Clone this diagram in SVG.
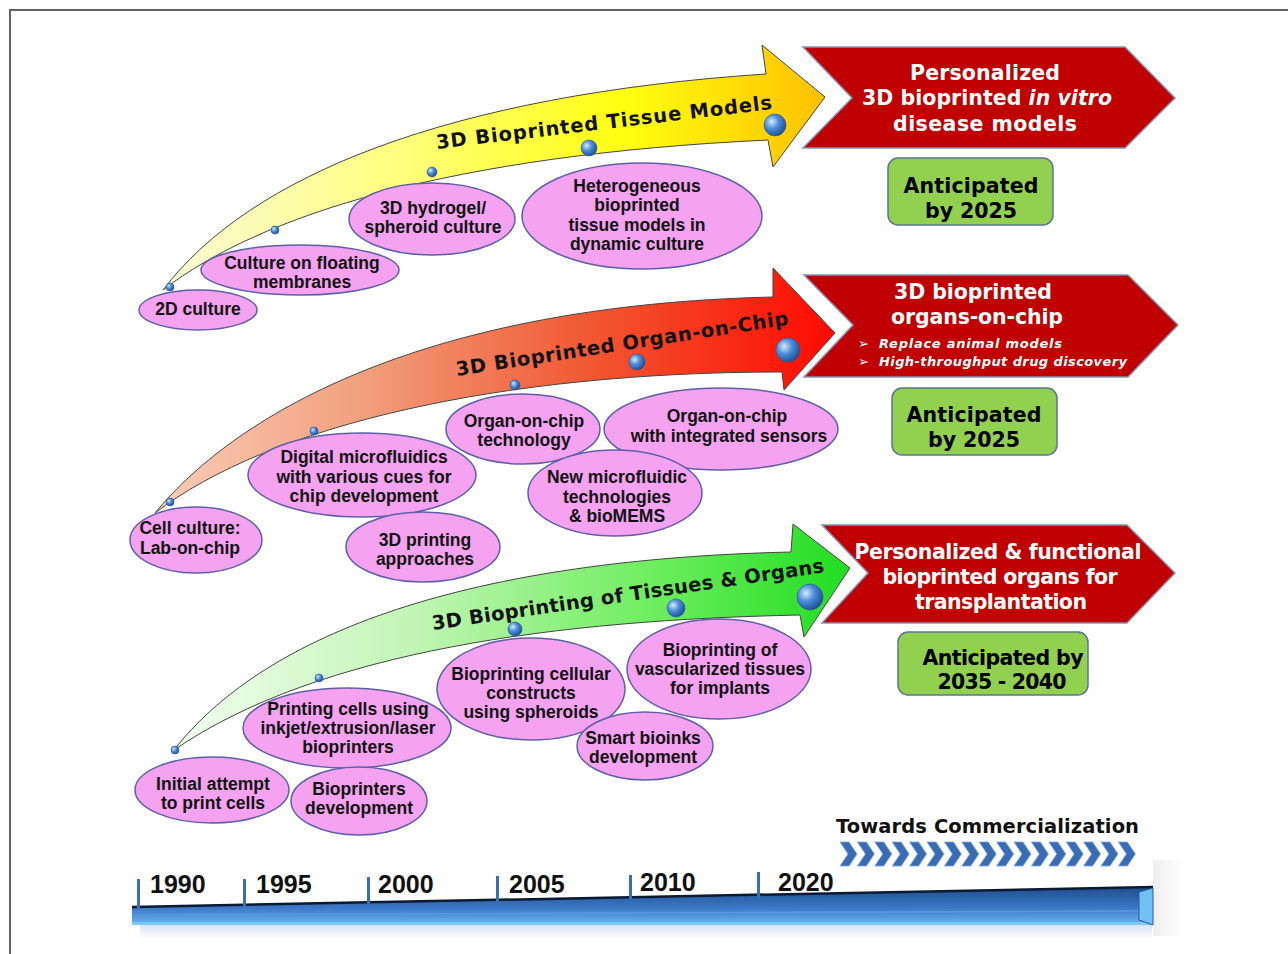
<svg xmlns="http://www.w3.org/2000/svg" width="1288" height="954" viewBox="0 0 1288 954">
<style>
.el{fill:#f5a2f1;stroke:#5d60a8;stroke-width:1.5}
.et{font-family:"Liberation Sans",Arial,sans-serif;font-weight:bold;font-size:17.5px;fill:#111;text-anchor:middle}
.bt{font-family:"DejaVu Sans","Liberation Sans",sans-serif;font-weight:bold;font-size:20.5px;fill:#fff;text-anchor:middle}
.bl{font-family:"DejaVu Sans","Liberation Sans",sans-serif;font-weight:bold;font-style:italic;font-size:13px;fill:#fff}
.gt{font-family:"DejaVu Sans","Liberation Sans",sans-serif;font-weight:bold;font-size:20.5px;fill:#000;text-anchor:middle}
.at{font-family:"DejaVu Sans","Liberation Sans",sans-serif;font-weight:bold;font-size:19.5px;fill:#111}
.yr{font-family:"Liberation Sans",Arial,sans-serif;font-weight:bold;font-size:25px;fill:#111}
.rb{fill:#c00000;stroke:#8494b4;stroke-width:1.5}
.gb{fill:#92d050;stroke:#5b7590;stroke-width:1.5}
.ar{stroke:#444;stroke-width:1}
.tk{fill:#3c6fb0}
</style>
<defs>
<linearGradient id="gy" x1="0" y1="0" x2="1" y2="0">
<stop offset="0" stop-color="#fbfbd8"/><stop offset="0.35" stop-color="#ffff80"/><stop offset="0.7" stop-color="#ffff10"/><stop offset="1" stop-color="#ffc000"/>
</linearGradient>
<linearGradient id="gr" x1="0" y1="0" x2="1" y2="0">
<stop offset="0" stop-color="#f9cdb8"/><stop offset="0.3" stop-color="#f2a07e"/><stop offset="0.65" stop-color="#f25530"/><stop offset="1" stop-color="#ff0a00"/>
</linearGradient>
<linearGradient id="gg" x1="0" y1="0" x2="1" y2="0">
<stop offset="0" stop-color="#f2fff0"/><stop offset="0.35" stop-color="#c2f5b5"/><stop offset="0.7" stop-color="#70ee60"/><stop offset="1" stop-color="#22dd22"/>
</linearGradient>
<radialGradient id="ball" cx="0.35" cy="0.35" r="0.7">
<stop offset="0" stop-color="#d4ecff"/><stop offset="0.45" stop-color="#4d8ed8"/><stop offset="1" stop-color="#1d4c96"/>
</radialGradient>
<linearGradient id="bar" x1="0" y1="0" x2="0" y2="1">
<stop offset="0" stop-color="#1f4d8c"/><stop offset="0.55" stop-color="#3b78c6"/><stop offset="1" stop-color="#6cb8f2"/>
</linearGradient>
<linearGradient id="shR" x1="0" y1="0" x2="1" y2="0">
<stop offset="0" stop-color="#eeeeee"/><stop offset="1" stop-color="#ffffff"/>
</linearGradient>
<linearGradient id="shB" x1="0" y1="0" x2="0" y2="1">
<stop offset="0" stop-color="#d6e2f2"/><stop offset="1" stop-color="#ffffff"/>
</linearGradient>
<path id="chev" d="M0,0 L9,0 L17,12 L9,24 L0,24 L8,12 Z" fill="#3a6cb4" stroke="#7aa6dc" stroke-width="0.8"/>
</defs>
<rect width="1288" height="954" fill="#fff"/>
<path d="M10,954 L10,10 L1288,10" fill="none" stroke="#626262" stroke-width="2"/>

<g id="connectors">
<path class="ar" fill="url(#gy)" d="M163,290 C250,175 450,95 766,74 L762,45 L825,97 L773,167 L768,140 C450,155 260,215 163,290 Z"/>
<path class="ar" fill="url(#gr)" d="M155,513 C240,410 430,305 773,297 L773,268 L835,333 L784,390 L782,372 C500,372 270,425 155,513 Z"/>
<path class="ar" fill="url(#gg)" d="M174,750 C260,640 450,560 791,552 L793,524 L850,568 L804,637 L800,615 C560,620 320,650 174,750 Z"/>
<text class="at" transform="translate(437,149) rotate(-6.8)" textLength="338">3D Bioprinted Tissue Models</text>
<text class="at" transform="translate(457,376) rotate(-8.8)" textLength="336">3D Bioprinted Organ-on-Chip</text>
<text class="at" transform="translate(433,630) rotate(-8.4)" textLength="396">3D Bioprinting of Tissues &amp; Organs</text>
</g>

<g id="yellow-nodes">
<g id="n-2d"><ellipse class="el" cx="198" cy="310" rx="59" ry="20"/><text class="et" x="198" y="315">2D culture</text></g>
<g id="n-floating"><ellipse class="el" cx="300" cy="270" rx="99" ry="25"/><text class="et" x="302" y="269">Culture on floating</text><text class="et" x="302" y="288">membranes</text></g>
<g id="n-hydrogel"><ellipse class="el" cx="432" cy="219" rx="83" ry="36"/><text class="et" x="433" y="214">3D hydrogel/</text><text class="et" x="433" y="233">spheroid culture</text></g>
<g id="n-hetero"><ellipse class="el" cx="642" cy="216" rx="120" ry="53"/><text class="et" x="637" y="192">Heterogeneous</text><text class="et" x="637" y="211">bioprinted</text><text class="et" x="637" y="231">tissue models in</text><text class="et" x="637" y="250">dynamic culture</text></g>
</g>

<g id="red-nodes">
<g id="n-cellculture"><ellipse class="el" cx="196" cy="540" rx="66" ry="33"/><text class="et" x="190" y="534">Cell culture:</text><text class="et" x="190" y="554">Lab-on-chip</text></g>
<g id="n-digital"><ellipse class="el" cx="362" cy="475" rx="114" ry="42"/><text class="et" x="364" y="463">Digital microfluidics</text><text class="et" x="364" y="483">with various cues for</text><text class="et" x="364" y="502">chip development</text></g>
<g id="n-3dprint"><ellipse class="el" cx="423" cy="547" rx="77" ry="35"/><text class="et" x="425" y="546">3D printing</text><text class="et" x="425" y="565">approaches</text></g>
<g id="n-ooc"><ellipse class="el" cx="523" cy="429" rx="77" ry="35"/><text class="et" x="524" y="427">Organ-on-chip</text><text class="et" x="524" y="446">technology</text></g>
<g id="n-oocsens"><ellipse class="el" cx="721" cy="429" rx="117" ry="41"/><text class="et" x="727" y="422">Organ-on-chip</text><text class="et" x="729" y="442">with integrated sensors</text></g>
<g id="n-newmf"><ellipse class="el" cx="615" cy="493" rx="87" ry="43"/><text class="et" x="617" y="483">New microfluidic</text><text class="et" x="617" y="503">technologies</text><text class="et" x="617" y="522">&amp; bioMEMS</text></g>
</g>

<g id="green-nodes">
<g id="n-printing"><ellipse class="el" cx="347" cy="728" rx="104" ry="40"/><text class="et" x="348" y="715">Printing cells using</text><text class="et" x="348" y="734">inkjet/extrusion/laser</text><text class="et" x="348" y="753">bioprinters</text></g>
<g id="n-initial"><ellipse class="el" cx="212" cy="790" rx="77" ry="33"/><text class="et" x="213" y="790">Initial attempt</text><text class="et" x="213" y="809">to print cells</text></g>
<g id="n-bioprinters"><ellipse class="el" cx="359" cy="801" rx="68" ry="34"/><text class="et" x="359" y="795">Bioprinters</text><text class="et" x="359" y="814">development</text></g>
<g id="n-cellular"><ellipse class="el" cx="531" cy="689" rx="94" ry="51"/><text class="et" x="531" y="680">Bioprinting cellular</text><text class="et" x="531" y="699">constructs</text><text class="et" x="531" y="718">using spheroids</text></g>
<g id="n-vasc"><ellipse class="el" cx="719" cy="669" rx="92" ry="50"/><text class="et" x="720" y="656">Bioprinting of</text><text class="et" x="720" y="675">vascularized tissues</text><text class="et" x="720" y="694">for implants</text></g>
<g id="n-smart"><ellipse class="el" cx="645" cy="746" rx="68" ry="34"/><text class="et" x="643" y="744">Smart bioinks</text><text class="et" x="643" y="763">development</text></g>
</g>

<g id="balls" fill="url(#ball)" stroke="#2a5595" stroke-width="0.6">
<circle cx="170" cy="287" r="4"/><circle cx="275" cy="230" r="4"/><circle cx="432" cy="172" r="5"/><circle cx="589" cy="148" r="8"/><circle cx="775" cy="125" r="11"/>
<circle cx="170" cy="502" r="4"/><circle cx="314" cy="431" r="4"/><circle cx="515" cy="385" r="5"/><circle cx="637" cy="362" r="8"/><circle cx="788" cy="350" r="12"/>
<circle cx="175" cy="750" r="4"/><circle cx="319" cy="678" r="4"/><circle cx="515" cy="629" r="7"/><circle cx="676" cy="608" r="9"/><circle cx="810" cy="597" r="13"/>
</g>

<g id="box-disease">
<polygon class="rb" points="803,47 1125,47 1175,98 1125,148 803,148 852,98"/>
<text class="bt" x="985" y="80" textLength="150">Personalized</text>
<text class="bt" x="987" y="105" textLength="250">3D bioprinted <tspan font-style="italic">in vitro</tspan></text>
<text class="bt" x="985" y="131" textLength="184">disease models</text>
</g>
<g id="ant-2025a"><rect class="gb" x="888" y="158" width="165" height="67" rx="10"/><text class="gt" x="971" y="193" textLength="135">Anticipated</text><text class="gt" x="971" y="218" textLength="92">by 2025</text></g>

<g id="box-ooc">
<polygon class="rb" points="804,275 1128,275 1178,325 1128,377 804,377 853,325"/>
<text class="bt" x="973" y="299" textLength="158">3D bioprinted</text>
<text class="bt" x="977" y="324" textLength="172">organs-on-chip</text>
<text class="bl" x="858" y="348" font-style="normal" font-family="DejaVu Sans" font-size="11">➢</text>
<text class="bl" x="879" y="348" textLength="183">Replace animal models</text>
<text class="bl" x="858" y="366" font-style="normal" font-family="DejaVu Sans" font-size="11">➢</text>
<text class="bl" x="879" y="366" textLength="248">High-throughput drug discovery</text>
</g>
<g id="ant-2025b"><rect class="gb" x="892" y="388" width="165" height="67" rx="10"/><text class="gt" x="974" y="422" textLength="135">Anticipated</text><text class="gt" x="974" y="447" textLength="92">by 2025</text></g>

<g id="box-transplant">
<polygon class="rb" points="822,525 1127,525 1175,573 1127,623 822,623 868,573"/>
<text class="bt" x="998" y="559" textLength="287">Personalized &amp; functional</text>
<text class="bt" x="1000" y="584" textLength="235">bioprinted organs for</text>
<text class="bt" x="1001" y="609" textLength="172">transplantation</text>
</g>
<g id="ant-2035"><rect class="gb" x="898" y="632" width="190" height="63" rx="10"/><text class="gt" x="1003" y="665" textLength="161">Anticipated by</text><text class="gt" x="1002" y="689" textLength="129">2035 - 2040</text></g>

<g id="commercialization">
<text class="at" x="836" y="833" font-size="19" textLength="303">Towards Commercialization</text>
<use href="#chev" x="840" y="842"/><use href="#chev" x="857.4" y="842"/><use href="#chev" x="874.8" y="842"/><use href="#chev" x="892.2" y="842"/><use href="#chev" x="909.6" y="842"/><use href="#chev" x="927" y="842"/><use href="#chev" x="944.4" y="842"/><use href="#chev" x="961.8" y="842"/><use href="#chev" x="979.2" y="842"/><use href="#chev" x="996.6" y="842"/><use href="#chev" x="1014" y="842"/><use href="#chev" x="1031.4" y="842"/><use href="#chev" x="1048.8" y="842"/><use href="#chev" x="1066.2" y="842"/><use href="#chev" x="1083.6" y="842"/><use href="#chev" x="1101" y="842"/><use href="#chev" x="1118.4" y="842"/>
</g>

<g id="timeline">
<rect x="1153" y="860" width="32" height="76" fill="url(#shR)"/>
<rect x="140" y="924" width="1012" height="15" fill="url(#shB)"/>
<polygon points="132,907 1153,887 1153,925 132,925" fill="url(#bar)"/>
<line x1="132" y1="907" x2="1153" y2="887" stroke="#0b1a33" stroke-width="2.5"/>
<line x1="134" y1="915" x2="1140" y2="911" stroke="#5a96dc" stroke-width="1.5"/>
<line x1="132" y1="923.5" x2="1153" y2="923.5" stroke="#80cdf7" stroke-width="2.5"/>
<polygon points="1139,892 1153,888 1153,925 1139,920" fill="#70c2f2" stroke="#2a5a98" stroke-width="1"/>
<rect class="tk" x="137" y="879" width="3" height="29"/>
<rect class="tk" x="243" y="879" width="3" height="27"/>
<rect class="tk" x="367" y="877" width="3" height="27"/>
<rect class="tk" x="496" y="876" width="3" height="26"/>
<rect class="tk" x="629" y="875" width="3" height="25"/>
<rect class="tk" x="757" y="872" width="3" height="26"/>
<text class="yr" x="150" y="893">1990</text>
<text class="yr" x="256" y="893">1995</text>
<text class="yr" x="378" y="893">2000</text>
<text class="yr" x="509" y="893">2005</text>
<text class="yr" x="640" y="891">2010</text>
<text class="yr" x="778" y="891">2020</text>
</g>
</svg>
